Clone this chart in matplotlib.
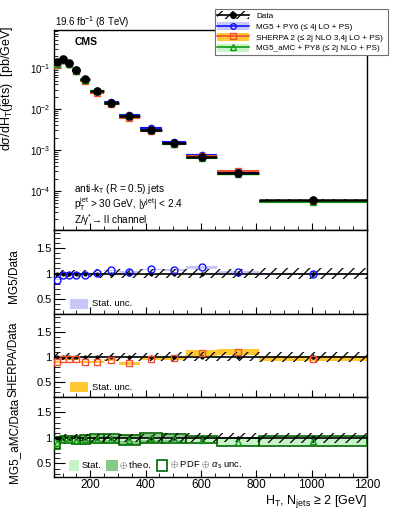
import numpy as np
import matplotlib.pyplot as plt
from matplotlib.patches import Rectangle
from matplotlib.lines import Line2D
from matplotlib.ticker import MultipleLocator, LogLocator, NullFormatter

plt.rcParams['font.family'] = ['Liberation Sans', 'DejaVu Sans']
plt.rcParams['mathtext.fontset'] = 'custom'
plt.rcParams['mathtext.rm'] = 'Liberation Sans'
plt.rcParams['mathtext.it'] = 'Liberation Sans:italic'
plt.rcParams['mathtext.bf'] = 'Liberation Sans:bold'
plt.rcParams['hatch.linewidth'] = 0.9

# H_T bins (GeV), N_jets >= 2
ht_edges = [70, 92, 110, 134, 162, 200, 248, 302, 378, 459, 547, 657, 808, 1200]

# measured cross section [pb/GeV] and relative uncertainties
data_xs = [0.138, 0.166, 0.132, 0.091, 0.053, 0.028, 0.014, 0.0069,
           0.0031, 0.00145, 0.00066, 0.000275, 5.8e-5]
data_stat = [0.004, 0.004, 0.004, 0.005, 0.005, 0.006, 0.008, 0.010,
             0.014, 0.020, 0.030, 0.040, 0.050]
data_sys = [0.08, 0.07, 0.07, 0.07, 0.07, 0.08, 0.08, 0.08,
            0.08, 0.09, 0.09, 0.09, 0.10]

# MC / data ratios
mg5_ratio = [0.88, 0.97, 0.97, 0.97, 0.98, 1.01, 1.06, 1.03, 1.08, 1.07, 1.12, 1.03, 0.99]
mg5_stat = [0.015, 0.01, 0.01, 0.01, 0.01, 0.01, 0.012, 0.012, 0.015, 0.02, 0.03, 0.02, 0.02]

sherpa_ratio = [0.89, 0.96, 0.96, 0.96, 0.90, 0.89, 0.93, 0.87, 0.96, 0.97, 1.08, 1.10, 0.96]
sherpa_stat = [0.02, 0.02, 0.02, 0.02, 0.02, 0.02, 0.02, 0.03, 0.03, 0.03, 0.06, 0.06, 0.05]

amc_ratio = [0.90, 0.97, 0.97, 0.96, 0.97, 0.98, 0.98, 0.96, 0.99, 0.98, 0.96, 0.92, 0.94]
amc_stat = [0.03, 0.02, 0.02, 0.02, 0.02, 0.02, 0.02, 0.03, 0.03, 0.03, 0.06, 0.07, 0.08]
amc_theo = [0.10, 0.06, 0.06, 0.07, 0.08, 0.08, 0.08, 0.09, 0.09, 0.08, 0.065, 0.075, 0.085]
amc_tot = [0.12, 0.07, 0.07, 0.08, 0.09, 0.09, 0.09, 0.10, 0.10, 0.09, 0.07, 0.08, 0.09]

edges = np.array(ht_edges, dtype=float)
lo = edges[:-1]
wid = np.diff(edges)
cen = lo + wid / 2
xs = np.array(data_xs)

c_mg5, c_mg5_band = '#1010ff', '#c8c8f8'
c_sh, c_sh_band = '#f05030', '#ffc832'
c_amc, c_amc_stat, c_amc_theo, c_amc_line = '#119911', '#c8f5c8', '#88c888', '#006600'

fig = plt.figure(figsize=(3.99, 5.16), dpi=100)
L, W = 54.3 / 399, (367 - 54.3) / 399
ax0 = fig.add_axes([L, 1 - 230 / 516, W, 200 / 516])
ax1 = fig.add_axes([L, 1 - 314 / 516, W, 84 / 516])
ax2 = fig.add_axes([L, 1 - 397 / 516, W, 83 / 516])
ax3 = fig.add_axes([L, 1 - 476.7 / 516, W, 79.7 / 516])

# ---------------- main panel
ax0.set_yscale('log')
ax0.set_xlim(edges[0], edges[-1])
ax0.set_ylim(1.1e-5, 0.86)

sys_abs = xs * np.array(data_sys)
ax0.bar(lo, 2 * sys_abs, width=wid, bottom=xs - sys_abs, align='edge',
        fill=False, hatch='///', linewidth=0, edgecolor='k', zorder=2)

mc_sets = [(mg5_ratio, mg5_stat, c_mg5, c_mg5_band, 'o'),
           (sherpa_ratio, sherpa_stat, c_sh, c_sh_band, 's'),
           (amc_ratio, amc_stat, c_amc, c_amc_stat, '^')]
for ratio, stat, col, bcol, mk in mc_sets:
    y = xs * np.array(ratio)
    e = y * np.array(stat)
    ax0.bar(lo, 2 * e, width=wid, bottom=y - e, align='edge', color=bcol,
            linewidth=0, zorder=3)
    ax0.hlines(y, lo, lo + wid, color=col, lw=1.5, zorder=4)
    ax0.plot(cen, y, mk, ms=4.5, mfc='none', mec=col, mew=1.0, zorder=5)

ax0.hlines(xs, lo, lo + wid, color='k', lw=1.8, zorder=6)
ax0.plot(cen, xs, 'o', ms=5.2, color='k', zorder=7)

ax0.yaxis.set_major_locator(LogLocator(base=10, numticks=10))
ax0.yaxis.set_minor_locator(LogLocator(base=10, subs=np.arange(2, 10), numticks=20))
ax0.yaxis.set_minor_formatter(NullFormatter())
ax0.tick_params(axis='y', which='major', labelsize=7, length=5, pad=3)
ax0.tick_params(axis='y', which='minor', length=3)
ax0.set_ylabel('dσ/dH$_{\\mathrm{T}}$(jets)  [pb/GeV]', loc='top', fontsize=9)
ax0.yaxis.set_label_coords(-0.125, 1.02)

ax0.text(0.066, 0.965, 'CMS', transform=ax0.transAxes, fontsize=7.5,
         fontweight='bold', va='top', ha='left')
ax0.text(0.063, 0.205, 'anti-k$_{\\mathrm{T}}$ (R = 0.5) jets',
         transform=ax0.transAxes, fontsize=7.2, va='center')
ax0.text(0.063, 0.13, 'p$_{\\mathrm{T}}^{\\mathrm{jet}}$ > 30 GeV, |y$^{\\mathrm{jet}}$| < 2.4',
         transform=ax0.transAxes, fontsize=7.2, va='center')
ax0.text(0.063, 0.05, 'Z/γ$^{*}$→ ll channel',
         transform=ax0.transAxes, fontsize=7.2, va='center')
fig.text(55 / 399, 1 - 26 / 516, '19.6 fb$^{-1}$ (8 TeV)', fontsize=7,
         va='baseline', ha='left')

# ---------------- ratio panels
def ratio_frame(ax, ylim, ylabel):
    ax.set_xlim(edges[0], edges[-1])
    ax.set_ylim(*ylim)
    ax.bar(lo, 2 * np.array(data_sys), width=wid, bottom=1 - np.array(data_sys),
           align='edge', fill=False, hatch='///', linewidth=0, edgecolor='k', zorder=4)
    ax.axhline(1, color='k', lw=1.2, zorder=5)
    ax.errorbar(cen, np.ones(len(cen)), yerr=np.array(data_stat), fmt='o', ms=2,
                color='k', elinewidth=1, capsize=0, zorder=6)
    ax.yaxis.set_major_locator(MultipleLocator(0.5))
    ax.yaxis.set_minor_locator(MultipleLocator(0.1))
    ax.yaxis.set_major_formatter(plt.FuncFormatter(lambda v, p: f'{v:g}'))
    ax.tick_params(axis='y', which='major', labelsize=8, length=8, pad=2)
    ax.tick_params(axis='y', which='minor', length=4)
    ax.set_ylabel(ylabel, fontsize=8.5)
    ax.yaxis.set_label_coords(-0.11, 0.45)

ratio_frame(ax1, (0.2, 1.86), 'MG5/Data')
y = np.array(mg5_ratio); e = np.array(mg5_stat)
ax1.bar(lo, 2 * e, width=wid, bottom=y - e, align='edge', color=c_mg5_band,
        linewidth=0, zorder=2)
ax1.plot(cen, y, 'o', ms=5, mfc='none', mec=c_mg5, mew=1.0, zorder=7)
ax1.add_patch(Rectangle((0.05, 0.063), 0.059, 0.112, transform=ax1.transAxes,
                        color=c_mg5_band, lw=0))
ax1.text(0.12, 0.12, 'Stat. unc.', transform=ax1.transAxes, fontsize=6.8, va='center')

ratio_frame(ax2, (0.2, 1.85), 'SHERPA/Data')
y = np.array(sherpa_ratio); e = np.array(sherpa_stat)
ax2.bar(lo, 2 * e, width=wid, bottom=y - e, align='edge', color=c_sh_band,
        linewidth=0, zorder=2)
ax2.plot(cen, y, 's', ms=4.8, mfc='none', mec=c_sh, mew=1.0, zorder=7)
ax2.add_patch(Rectangle((0.05, 0.064), 0.059, 0.113, transform=ax2.transAxes,
                        color=c_sh_band, lw=0))
ax2.text(0.12, 0.12, 'Stat. unc.', transform=ax2.transAxes, fontsize=6.8, va='center')

ratio_frame(ax3, (0.24, 1.8), 'MG5_aMC/Data')
y = np.array(amc_ratio)
et, eh, es = np.array(amc_tot), np.array(amc_theo), np.array(amc_stat)
ax3.bar(lo, 2 * eh, width=wid, bottom=y - eh, align='edge', color=c_amc_theo,
        linewidth=0, zorder=1)
ax3.bar(lo, 2 * es, width=wid, bottom=y - es, align='edge', color=c_amc_stat,
        linewidth=0, zorder=2)
ax3.bar(lo, 2 * et, width=wid, bottom=y - et, align='edge', fill=False,
        edgecolor=c_amc_line, linewidth=1.2, zorder=3)
ax3.plot(cen, y, '^', ms=4.5, mfc='none', mec=c_amc, mew=1.0, zorder=7)
ax3.add_patch(Rectangle((0.048, 0.075), 0.032, 0.135, transform=ax3.transAxes,
                        color=c_amc_stat, lw=0))
ax3.text(0.088, 0.14, 'Stat.', transform=ax3.transAxes, fontsize=6.8, va='center')
ax3.add_patch(Rectangle((0.165, 0.075), 0.04, 0.135, transform=ax3.transAxes,
                        color=c_amc_theo, lw=0))
ax3.text(0.208, 0.14, '$\\oplus$ theo.', transform=ax3.transAxes, fontsize=6.8, va='center')
ax3.add_patch(Rectangle((0.33, 0.075), 0.032, 0.135, transform=ax3.transAxes,
                        fill=False, edgecolor=c_amc_line, lw=1.2))
ax3.text(0.37, 0.14, '$\\oplus$ PDF $\\oplus$ $\\alpha_{\\mathrm{s}}$ unc.',
         transform=ax3.transAxes, fontsize=6.8, va='center')

for ax in (ax0, ax1, ax2, ax3):
    ax.xaxis.set_major_locator(MultipleLocator(200))
    ax.xaxis.set_minor_locator(MultipleLocator(50))
    ax.tick_params(which='both', direction='in', top=False, right=False)
    ax.tick_params(axis='x', which='major', length=5)
    ax.tick_params(axis='x', which='minor', length=3)
    for sp in ax.spines.values():
        sp.set_linewidth(1.0)
    if ax is not ax3:
        ax.tick_params(axis='x', labelbottom=False)

ax3.tick_params(axis='x', labelsize=8.5, pad=2)
ax3.set_xlabel('H$_{\\mathrm{T}}$, N$_{\\mathrm{jets}}$ ≥ 2 [GeV]', loc='right', fontsize=9)
ax3.xaxis.set_label_coords(1.0, -0.2)

# legend
h_data = (Rectangle((0, 0), 1, 1, fill=False, hatch='///', lw=0, edgecolor='k'),
          Line2D([], [], color='k', lw=1.2, marker='o', ms=4))
h_mg5 = (Rectangle((0, 0), 1, 1, color=c_mg5_band, lw=0),
         Line2D([], [], color=c_mg5, lw=1.2, marker='o', ms=4, mfc='none', mec=c_mg5))
h_sh = (Rectangle((0, 0), 1, 1, color=c_sh_band, lw=0),
        Line2D([], [], color=c_sh, lw=1.2, marker='s', ms=4, mfc='none', mec=c_sh))
h_amc = (Rectangle((0, 0), 1, 1, color=c_amc_stat, lw=0),
         Line2D([], [], color=c_amc, lw=1.2, marker='^', ms=4, mfc='none', mec=c_amc))
leg = fig.legend([h_data, h_mg5, h_sh, h_amc],
                 ['Data', 'MG5 + PY6 (≤ 4j LO + PS)',
                  'SHERPA 2 (≤ 2j NLO 3,4j LO + PS)',
                  'MG5_aMC + PY8 (≤ 2j NLO + PS)'],
                 loc='upper left', bbox_to_anchor=(215 / 399, 1 - 9 / 516, 173 / 399, 0.0),
                 mode='expand', fontsize=5.9, handlelength=3.8, handleheight=1.1,
                 handletextpad=0.9, labelspacing=0.25, borderpad=0.3,
                 borderaxespad=0.0, fancybox=False, framealpha=1.0,
                 edgecolor='#707070')
leg.get_frame().set_linewidth(0.8)

fig.savefig('out.png', dpi=100)
